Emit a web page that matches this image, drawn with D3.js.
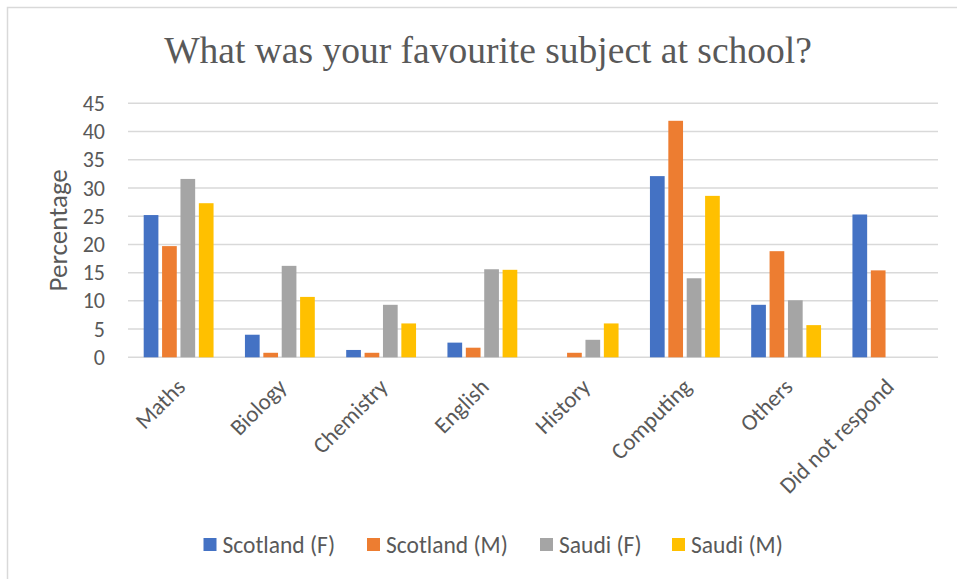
<!DOCTYPE html>
<html>
<head>
<meta charset="utf-8">
<script src="https://cdn.jsdelivr.net/npm/d3@7"></script>
<style>
  html, body { margin: 0; padding: 0; background: #fff; }
  svg { display: block; }
</style>
</head>
<body>
<svg id="chart" width="957" height="579"></svg>
<script>
// Survey answers: favourite school subject, percentage per group
const subjects = ["Maths", "Biology", "Chemistry", "English", "History", "Computing", "Others", "Did not respond"];
const groups = ["Scotland (F)", "Scotland (M)", "Saudi (F)", "Saudi (M)"];
const scotlandF = [25.2, 4.0, 1.3, 2.6, 0, 32.1, 9.3, 25.3];
const scotlandM = [19.7, 0.8, 0.8, 1.7, 0.8, 41.9, 18.8, 15.4];
const saudiF    = [31.6, 16.2, 9.3, 15.6, 3.1, 14.0, 10.1, 0];
const saudiM    = [27.3, 10.7, 6.0, 15.5, 6.0, 28.6, 5.7, 0];
const yTicks = [0, 5, 10, 15, 20, 25, 30, 35, 40, 45];
const colors = ["#4472C4", "#ED7D31", "#A5A5A5", "#FFC000"];

const seriesValues = [scotlandF, scotlandM, saudiF, saudiM];
const rows = subjects.map((s, i) => ({
  subject: s,
  values: groups.map((g, j) => ({ group: g, value: seriesValues[j][i] }))
}));

const svg = d3.select("#chart");
const W = 957, H = 579;
const plot = { left: 128, right: 938, top: 103.3, bottom: 357.3 };
const textColor = "#595959";
const sans = "Carlito, 'Open Sans', 'Noto Sans', sans-serif";

// Chart frame
svg.append("rect")
  .attr("x", 7.5).attr("y", 7.5)
  .attr("width", W).attr("height", H)
  .attr("fill", "#fff").attr("stroke", "#d9d9d9").attr("stroke-width", 1.5);

// Title
svg.append("text")
  .attr("x", 488).attr("y", 63)
  .attr("text-anchor", "middle")
  .attr("font-family", "'Liberation Serif', 'Times New Roman', serif")
  .attr("font-size", 37.5)
  .attr("fill", textColor)
  .text("What was your favourite subject at school?");

const x0 = d3.scaleBand().domain(subjects).range([plot.left, plot.right]).paddingInner(0.31).paddingOuter(0.155);
const x1 = d3.scaleBand().domain(groups).range([0, x0.bandwidth()]).paddingInner(0.2);
const y = d3.scaleLinear().domain([0, 45]).range([plot.bottom, plot.top]);

// Gridlines
svg.append("g")
  .selectAll("line")
  .data(yTicks)
  .join("line")
  .attr("x1", plot.left).attr("x2", plot.right)
  .attr("y1", d => y(d)).attr("y2", d => y(d))
  .attr("stroke", "#d9d9d9").attr("stroke-width", 1.5);

// Y axis labels
const yAxis = d3.axisLeft(y).tickValues(yTicks).tickSize(0).tickPadding(0);
const yg = svg.append("g").attr("transform", `translate(105,0)`).call(yAxis);
yg.select(".domain").remove();
yg.selectAll("text")
  .attr("font-family", sans)
  .attr("font-size", 22)
  .attr("fill", textColor);

svg.append("text")
  .attr("transform", `translate(67,${(plot.top + plot.bottom) / 2}) rotate(-90)`)
  .attr("text-anchor", "middle")
  .attr("font-family", sans)
  .attr("font-size", 27)
  .attr("fill", textColor)
  .text("Percentage");

// Bars
const grp = svg.append("g")
  .selectAll("g")
  .data(rows)
  .join("g")
  .attr("transform", d => `translate(${x0(d.subject)},0)`);

grp.selectAll("rect")
  .data(d => d.values.filter(v => v.value > 0))
  .join("rect")
  .attr("x", d => x1(d.group))
  .attr("width", x1.bandwidth())
  .attr("y", d => y(d.value))
  .attr("height", d => y(0) - y(d.value))
  .attr("fill", (d) => colors[groups.indexOf(d.group)]);

// Category labels, rotated
const xAxis = d3.axisBottom(x0).tickSize(0).tickPadding(0);
const xg = svg.append("g").attr("transform", `translate(0,${plot.bottom})`).call(xAxis);
xg.select(".domain").remove();
xg.selectAll("text")
  .attr("font-family", sans)
  .attr("font-size", 23)
  .attr("fill", textColor)
  .attr("text-anchor", "end")
  .attr("dy", null)
  .attr("y", 0)
  .attr("transform", "translate(8,31) rotate(-45)");

// Legend
const legendX = [203.5, 367, 540, 672];
const lg = svg.append("g")
  .selectAll("g")
  .data(groups)
  .join("g")
  .attr("transform", (d, i) => `translate(${legendX[i]},538)`);
lg.append("rect").attr("width", 13).attr("height", 13).attr("fill", (d, i) => colors[i]);
lg.append("text")
  .attr("x", 19).attr("y", 15)
  .attr("font-family", sans)
  .attr("font-size", 23.5)
  .attr("fill", textColor)
  .text(d => d);
</script>
</body>
</html>
